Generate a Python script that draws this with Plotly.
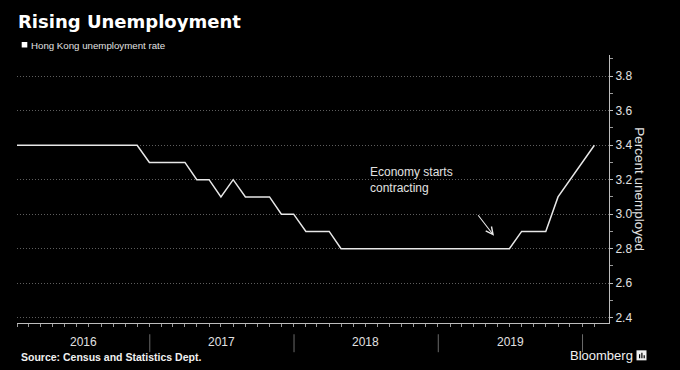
import calendar
import datetime as dt
import plotly.graph_objects as go

# ---- data ----
start_year, start_month = 2016, 1
rates = [3.4, 3.4, 3.4, 3.4, 3.4, 3.4, 3.4, 3.4, 3.4, 3.4, 3.4,
         3.3, 3.3, 3.3, 3.3,
         3.2, 3.2,
         3.1, 3.2,
         3.1, 3.1, 3.1,
         3.0, 3.0,
         2.9, 2.9, 2.9,
         2.8, 2.8, 2.8, 2.8, 2.8, 2.8, 2.8, 2.8, 2.8, 2.8, 2.8, 2.8, 2.8, 2.8, 2.8,
         2.9, 2.9, 2.9,
         3.1, 3.2, 3.3, 3.4]
year_labels = ["2016", "2017", "2018", "2019"]
year_bounds = ["2017-01-01", "2018-01-01", "2019-01-01", "2020-01-01"]
year_label_pos = ["2016-07-16", "2017-07-02", "2018-07-02", "2019-07-02"]
y_ticks = [2.4, 2.6, 2.8, 3.0, 3.2, 3.4, 3.6, 3.8]

def month_end(i):
    y = start_year + (start_month - 1 + i) // 12
    m = (start_month - 1 + i) % 12 + 1
    return dt.date(y, m, calendar.monthrange(y, m)[1])

dates = [month_end(i) for i in range(len(rates))]

TXT = "#e2e2e2"
FONT = "Liberation Sans"

fig = go.Figure()
fig.add_trace(go.Scatter(x=dates, y=rates, mode="lines",
                         line=dict(color="#e8e8e8", width=1.5),
                         hoverinfo="skip", showlegend=False))

fig.update_layout(
    width=680, height=370,
    margin=dict(l=17, r=71, t=55, b=47.3),
    paper_bgcolor="#000000", plot_bgcolor="#000000",
    font=dict(family=FONT, color=TXT, size=11),
    showlegend=False,
    xaxis=dict(range=["2016-01-31", "2020-03-08"], showgrid=False, zeroline=False,
               showline=True, linecolor="#bdbdbd", linewidth=1,
               tickvals=dates, ticks="outside", ticklen=3, tickcolor="#9a9a9a",
               showticklabels=False),
    yaxis=dict(range=[2.369, 3.923], side="right", showgrid=True,
               gridcolor="#5e5e5e", griddash="1px,2px", gridwidth=1, zeroline=False,
               showline=True, linecolor="#bdbdbd", linewidth=1,
               tickvals=y_ticks, ticktext=[f"{v:.1f}" for v in y_ticks],
               ticks="outside", ticklen=3, tickcolor="#bdbdbd",
               tickfont=dict(family=FONT, size=12, color=TXT),
               minor=dict(dtick=0.1, tick0=2.4, ticks="outside", ticklen=3,
                          tickcolor="#9a9a9a", showgrid=False)),
)

ann = []
# title
ann.append(dict(text="<b>Rising Unemployment</b>", xref="paper", yref="paper",
                x=0, y=1, xanchor="left", yanchor="middle", xshift=-1, yshift=34,
                showarrow=False, font=dict(family="DejaVu Sans", size=18, color="#ffffff")))
# legend text
ann.append(dict(text="Hong Kong unemployment rate", xref="paper", yref="paper",
                x=0, y=1, xanchor="left", yanchor="middle", xshift=12, yshift=10,
                showarrow=False, font=dict(family=FONT, size=9.7, color=TXT)))
# y axis title
ann.append(dict(text="Percent unemployed", xref="paper", yref="paper",
                x=1.0524, y=0.4994, xanchor="center", yanchor="middle", textangle=90,
                showarrow=False, font=dict(family=FONT, size=13.5, color=TXT)))
# economy annotation
ann.append(dict(text="Economy starts<br>contracting", xref="x", yref="y",
                x="2018-07-07", y=3.2, xanchor="left", yanchor="middle", align="left",
                showarrow=False, font=dict(family=FONT, size=12, color=TXT)))
ann.append(dict(text="", xref="x", yref="y", x="2019-05-22", y=2.875,
                ax=-17, ay=-22, showarrow=True, arrowhead=5, arrowsize=1.3,
                arrowwidth=1.1, arrowcolor="#e8e8e8"))
# year labels
for lab, pos in zip(year_labels, year_label_pos):
    ann.append(dict(text=lab, xref="x", yref="paper", x=pos, y=0,
                    xanchor="center", yanchor="middle", yshift=-19,
                    showarrow=False, font=dict(family=FONT, size=12, color=TXT)))
# source
ann.append(dict(text="<b>Source: Census and Statistics Dept.</b>", xref="paper", yref="paper",
                x=0, y=0, xanchor="left", yanchor="middle", xshift=2, yshift=-33.5,
                showarrow=False, font=dict(family=FONT, size=10.5, color="#f0f0f0")))
# Bloomberg
ann.append(dict(text="Bloomberg", xref="paper", yref="paper",
                x=1, y=0, xanchor="left", yanchor="middle", xshift=-41, yshift=-32,
                showarrow=False, font=dict(family=FONT, size=13, color="#f0f0f0")))
fig.update_layout(annotations=ann)

shapes = []
# year separators
for b in year_bounds:
    shapes.append(dict(type="line", xref="x", yref="paper", x0=b, x1=b,
                       y0=-0.109, y1=-0.042, line=dict(color="#6a6a6a", width=1)))
# legend square
shapes.append(dict(type="rect", xref="paper", yref="paper",
                   x0=(21.7 - 17) / 592, x1=(27.3 - 17) / 592,
                   y0=(322.7 - 47.5) / 267.7, y1=(322.7 - 42) / 267.7,
                   fillcolor="#ffffff", line=dict(width=0)))
# Bloomberg logo
lx0, lx1 = (636.5 - 17) / 592, (646.5 - 17) / 592
ly0, ly1 = (322.7 - 360) / 267.7, (322.7 - 350) / 267.7
shapes.append(dict(type="rect", xref="paper", yref="paper", x0=lx0, x1=lx1,
                   y0=ly0, y1=ly1, fillcolor="#f0f0f0", line=dict(width=0)))
for bx, bt in [(639, 354), (641.3, 352.5), (643.6, 355)]:
    shapes.append(dict(type="rect", xref="paper", yref="paper",
                       x0=(bx - 17) / 592, x1=(bx + 1.2 - 17) / 592,
                       y0=(322.7 - 358) / 267.7, y1=(322.7 - bt) / 267.7,
                       fillcolor="#000000", line=dict(width=0)))
fig.update_layout(shapes=shapes)

fig.write_html("out.html", config={"displayModeBar": False},
               post_script="document.body.style.margin='0';document.body.style.background='#000';")
